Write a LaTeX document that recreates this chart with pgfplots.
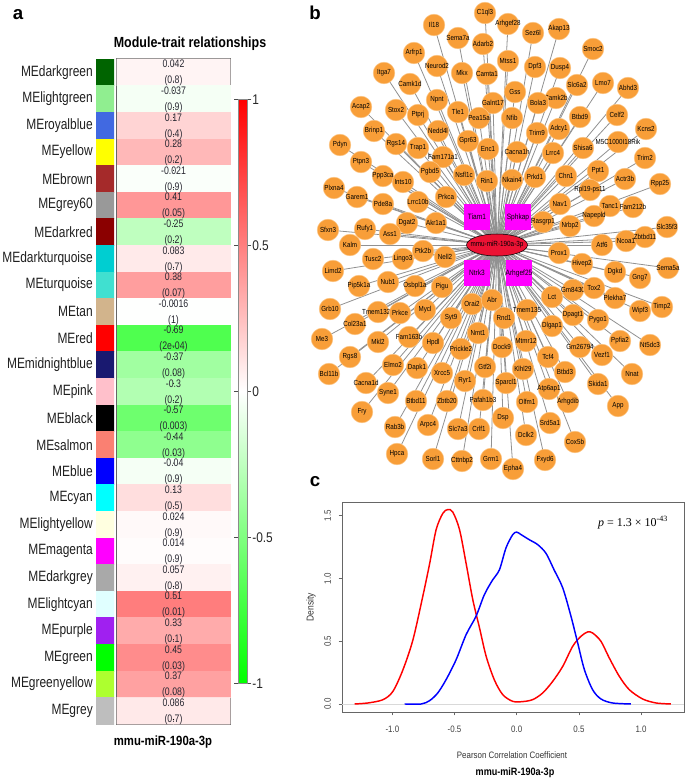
\documentclass[border=0pt]{standalone}
\usepackage{pgfplots}
\pgfplotsset{compat=1.18}
\usepackage{pgfplotstable}
\usepackage{fontspec}
\setmainfont{Liberation Sans}
\newfontfamily\nar[FakeStretch=0.85]{Liberation Sans}
\newfontfamily\narr[FakeStretch=0.8]{Liberation Sans}
\newfontfamily\serifp{Liberation Serif}
\newcommand\fs[1]{\fontsize{#1}{#1}\selectfont}
\definecolor{nodeor}{RGB}{248,158,56}
\definecolor{noderim}{RGB}{252,196,130}
\definecolor{mag}{RGB}{255,0,255}
\definecolor{cred}{RGB}{236,18,52}
\definecolor{edgec}{RGB}{145,145,145}
\definecolor{txt}{RGB}{40,40,50}

% heatmap cells: x y idx val
\pgfplotstableread{
x y idx val
0.5 0.5 0 0.042
1.5 0.5 0 0.042
0.5 1.5 1 -0.037
1.5 1.5 1 -0.037
0.5 2.5 2 0.17
1.5 2.5 2 0.17
0.5 3.5 3 0.28
1.5 3.5 3 0.28
0.5 4.5 4 -0.021
1.5 4.5 4 -0.021
0.5 5.5 5 0.41
1.5 5.5 5 0.41
0.5 6.5 6 -0.25
1.5 6.5 6 -0.25
0.5 7.5 7 0.083
1.5 7.5 7 0.083
0.5 8.5 8 0.38
1.5 8.5 8 0.38
0.5 9.5 9 -0.0016
1.5 9.5 9 -0.0016
0.5 10.5 10 -0.69
1.5 10.5 10 -0.69
0.5 11.5 11 -0.37
1.5 11.5 11 -0.37
0.5 12.5 12 -0.3
1.5 12.5 12 -0.3
0.5 13.5 13 -0.57
1.5 13.5 13 -0.57
0.5 14.5 14 -0.44
1.5 14.5 14 -0.44
0.5 15.5 15 -0.04
1.5 15.5 15 -0.04
0.5 16.5 16 0.13
1.5 16.5 16 0.13
0.5 17.5 17 0.024
1.5 17.5 17 0.024
0.5 18.5 18 0.014
1.5 18.5 18 0.014
0.5 19.5 19 0.057
1.5 19.5 19 0.057
0.5 20.5 20 0.51
1.5 20.5 20 0.51
0.5 21.5 21 0.33
1.5 21.5 21 0.33
0.5 22.5 22 0.45
1.5 22.5 22 0.45
0.5 23.5 23 0.37
1.5 23.5 23 0.37
0.5 24.5 24 0.086
1.5 24.5 24 0.086
}\hmcells

\pgfplotstableread{
y v p
0.5 0.042 (0.8)
1.5 -0.037 (0.9)
2.5 0.17 (0.4)
3.5 0.28 (0.2)
4.5 -0.021 (0.9)
5.5 0.41 (0.05)
6.5 -0.25 (0.2)
7.5 0.083 (0.7)
8.5 0.38 (0.07)
9.5 -0.0016 (1)
10.5 -0.69 (2e-04)
11.5 -0.37 (0.08)
12.5 -0.3 (0.2)
13.5 -0.57 (0.003)
14.5 -0.44 (0.03)
15.5 -0.04 (0.9)
16.5 0.13 (0.5)
17.5 0.024 (0.9)
18.5 0.014 (0.9)
19.5 0.057 (0.8)
20.5 0.51 (0.01)
21.5 0.33 (0.1)
22.5 0.45 (0.03)
23.5 0.37 (0.08)
24.5 0.086 (0.7)
}\hmtext

\pgfplotstableread{
x y label
485 13 C1ql3
434 25 Il18
508 24 Arhgef28
533 33 Sez6l
559 29 Akap13
458 38 Sema7a
483 44 Adarb2
593 49 Smoc2
414 53 Arfrp1
508 61 Mtss1
535 67 Dpf3
560 68 Dusp4
437 66 Neurod2
462 73 Mkx
487 74 Camta1
384 73 Itga7
410 84 Camk1d
577 85 Slc6a2
603 83 Lmo7
628 88 Abhd3
515 92 Gss
437 100 Npnt
493 103 Galnt17
556 98 Camk2b
538 103 Bola3
361 107 Acap2
396 110 Stox2
418 115 Ptprj
458 112 Tle1
479 118 Pea15a
512 118 Nfib
580 117 Btbd9
617 115 Celf2
646 129 Kcns2
374 131 Brinp1
438 131 Nedd4l
537 133 Trim9
559 129 Adcy1
340 145 Pdyn
396 144 Rgs14
418 148 Trap1
468 141 Gpr63
488 149 Enc1
517 152 Cacna1h
553 153 Lrrc4
583 148 Shisa6
618 142 M5C1000I18Rik
645 158 Trim2
443 157 Fam171a1
361 162 Ptpn3
430 172 Pgbd5
464 175 Nsfl1c
487 181 Rin1
512 180 Nkain4
535 177 Prkd1
566 176 Chn1
598 171 Ppt1
625 179 Actr3b
660 184 Rpp25
383 176 Ppp3ca
403 182 Ints10
590 190 Rpl19-ps11
334 188 Plxna4
357 197 Garem1
383 204 Pde8a
418 202 Lrrc10b
446 197 Prkca
560 204 Nav1
610 206 Tanc1
633 207 Fam212b
594 216 Napepld
328 230 Sfxn3
365 229 Rufy1
407 223 Dgat2
436 223 Akr1a1
543 222 Rasgrp1
570 226 Nrbp2
667 227 Slc35f3
390 234 Ass1
350 245 Kalm
602 245 Atf6
626 241 Ncoa1
645 237 Zbtbd11
559 253 Prox1
423 251 Ptk2b
445 257 Nell2
373 259 Tusc2
403 259 Lingo3
333 271 Limd2
582 264 Hivep2
615 272 Dgkd
640 278 Gng7
668 268 Sema5a
359 286 Pip5k1a
388 282 Nub1
415 286 Osbpl1a
442 287 Pigu
573 290 Gm8430
594 288 Tox2
552 297 Lct
615 298 Plekha7
640 311 Wipf3
662 307 Timp2
330 309 Grb10
378 312 Tmem132d
400 313 Prkce
425 310 Mycl
472 304 Orai2
492 300 Abr
451 318 Syt9
504 318 Rnd1
527 310 Tmem135
573 315 Dpagt1
552 326 Dlgap1
598 320 Pygo1
355 324 Col23a1
322 339 Me3
378 342 Mkl2
409 337 Fam163b
478 333 Nmt1
433 343 Hpdl
461 349 Prickle2
502 347 Dock9
526 341 Mtmr12
580 347 Gm26794
620 341 Ppfia2
650 345 Nt5dc3
602 355 Vezf1
350 357 Rgs8
548 357 Tcf4
393 365 Elmo2
417 368 Dapk1
442 373 Xrcc5
485 367 Gtf2i
523 369 Klhl29
565 372 Btbd3
632 374 Nnat
329 374 Bcl11b
366 383 Cacna1d
465 381 Ryr1
506 383 Sparcl1
549 389 Atp6ap1
598 384 Skida1
388 393 Syne1
416 401 Btbd11
447 401 Zbtb20
483 400 Pafah1b3
527 402 Olfm1
568 402 Arhgdib
362 412 Fry
618 406 App
395 427 Rab3b
428 425 Arpc4
458 429 Slc7a3
479 429 Crlf1
503 418 Dsp
550 423 Srd5a1
526 435 Dclk2
575 442 Cox5b
397 454 Hpca
433 459 Sorl1
462 461 Cttnbp2
491 459 Grm1
545 460 Fxyd6
513 469 Epha4
}\netnodes

\pgfplotstableread{
x y label
477 217 Tiam1
518 217 Sphkap
477 273 Ntrk3
519 273 Arhgef25
}\netsq

\pgfplotstableread{
x y
-1.304 0
-1.197 0.008
-1.076 0.034
-0.996 0.10
-0.916 0.27
-0.835 0.51
-0.755 0.86
-0.700 1.12
-0.648 1.39
-0.594 1.52
-0.554 1.55
-0.514 1.53
-0.460 1.39
-0.407 1.12
-0.353 0.83
-0.300 0.61
-0.246 0.38
-0.179 0.19
-0.112 0.074
-0.032 0.021
0.048 0.019
0.129 0.035
0.209 0.088
0.289 0.18
0.370 0.30
0.450 0.46
0.517 0.54
0.570 0.574
0.610 0.566
0.677 0.50
0.744 0.367
0.825 0.22
0.905 0.114
1.012 0.04
1.120 0.008
1.240 0
}\redcurve

\pgfplotstableread{
x y
-0.902 0
-0.768 0
-0.700 0.027
-0.635 0.088
-0.568 0.194
-0.487 0.354
-0.407 0.553
-0.327 0.70
-0.260 0.872
-0.193 0.99
-0.139 1.07
-0.086 1.245
-0.032 1.35
0.000 1.37
0.035 1.35
0.100 1.31
0.169 1.27
0.236 1.20
0.300 1.07
0.370 0.925
0.436 0.70
0.490 0.487
0.544 0.274
0.610 0.114
0.677 0.04
0.770 0.008
0.918 0
}\bluecurve

\begin{document}
\begin{tikzpicture}
\useasboundingbox (0,0) rectangle (513.75pt,-586.5pt);

% ---------- panel a: colour strip ----------
\begin{axis}[at={(72pt,-44.25pt)}, anchor=north west, scale only axis,
  width=13.5pt, height=498.75pt,
  xmin=0, xmax=2, ymin=0, ymax=25, y dir=reverse,
  axis line style={draw=none}, xtick=\empty,
  ytick={0.5,1.5,...,24.5},
  yticklabels={MEdarkgreen,MElightgreen,MEroyalblue,MEyellow,MEbrown,MEgrey60,MEdarkred,MEdarkturquoise,MEturquoise,MEtan,MEred,MEmidnightblue,MEpink,MEblack,MEsalmon,MEblue,MEcyan,MElightyellow,MEmagenta,MEdarkgrey,MElightcyan,MEpurple,MEgreen,MEgreenyellow,MEgrey},
  major tick length=0pt,
  yticklabel style={font=\narr\fs{11.2}, text=black!88, inner sep=0pt},
  yticklabel shift=2.25pt,
  colormap={strip}{rgb255=(0,100,0) rgb255=(144,238,144) rgb255=(65,105,225) rgb255=(255,255,0) rgb255=(165,42,42) rgb255=(153,153,153) rgb255=(139,0,0) rgb255=(0,206,209) rgb255=(64,224,208) rgb255=(210,180,140) rgb255=(255,0,0) rgb255=(25,25,112) rgb255=(255,192,203) rgb255=(0,0,0) rgb255=(250,128,114) rgb255=(0,0,255) rgb255=(0,255,255) rgb255=(255,255,224) rgb255=(255,0,255) rgb255=(169,169,169) rgb255=(224,255,255) rgb255=(160,32,240) rgb255=(0,255,0) rgb255=(173,255,47) rgb255=(190,190,190)},
  colormap access=direct]
\addplot[matrix plot*, mesh/cols=2, point meta=explicit] table[x=x, y=y, meta=idx] {\hmcells};
\end{axis}

% ---------- panel a: heatmap ----------
\begin{axis}[at={(87.75pt,-44.25pt)}, anchor=north west, scale only axis,
  width=84.75pt, height=498.75pt,
  xmin=0, xmax=2, ymin=0, ymax=25, y dir=reverse,
  xtick=\empty, ytick=\empty, clip=false,
  axis line style={draw=black!60, line width=0.8pt},
  colormap={gwr}{rgb255=(0,255,0) rgb255=(255,255,255) rgb255=(255,0,0)},
  point meta min=-1, point meta max=1,
  colorbar,
  colorbar style={at={(parent axis.east)}, anchor=west, xshift=-2.25pt,
    scale only axis, width=6.75pt, height=438pt,
    ytick={-1,-0.5,0,0.5,1}, yticklabels={-1,-0.5,0,0.5,1},
    tick align=outside, major tick length=3pt,
    yticklabel style={font=\nar\fs{10.5}, text=black!85, inner sep=0pt},
    yticklabel shift=0.5pt,
    axis line style={draw=black!45, line width=0.5pt},
    tick style={black!70, line width=0.5pt}}]
\addplot[matrix plot*, mesh/cols=2, point meta=explicit] table[x=x, y=y, meta=val] {\hmcells};
\addplot[only marks, mark=*, mark size=0.1pt, mark options={draw=none, fill=none},
  nodes near coords, point meta=explicit symbolic, nodes near coords align={center},
  every node near coord/.append style={font=\narr\fs{8.2}, text=txt, inner sep=0pt}]
  table[x expr=1, y expr=\thisrow{y}-0.31, meta=v] {\hmtext};
\addplot[only marks, mark=*, mark size=0.1pt, mark options={draw=none, fill=none},
  nodes near coords, point meta=explicit symbolic, nodes near coords align={center},
  every node near coord/.append style={font=\narr\fs{8.2}, text=txt, inner sep=0pt}]
  table[x expr=1, y expr=\thisrow{y}+0.33, meta=p] {\hmtext};
\end{axis}

% ---------- panel b: network ----------
\begin{axis}[at={(225pt,0pt)}, anchor=north west, scale only axis,
  width=288.75pt, height=352.5pt,
  xmin=300, xmax=685, ymin=0, ymax=470, y dir=reverse,
  hide axis, clip=false]
\addplot[edgec, line width=0.6pt, no marks,
  quiver={u={497-\thisrow{x}}, v={245-\thisrow{y}}}] table[x=x, y=y] {\netnodes};
\addplot[edgec, line width=0.6pt, no marks,
  quiver={u={497-\thisrow{x}}, v={245-\thisrow{y}}}] table[x=x, y=y] {\netsq};
\addplot[only marks, mark=square*, mark size=9.4pt, mark options={fill=mag, draw=mag},
  nodes near coords, point meta=explicit symbolic, nodes near coords align={center},
  every node near coord/.append style={font=\nar\fs{5.8}, text=black, inner sep=0pt}]
  table[x=x, y=y, meta=label] {\netsq};
\addplot[only marks, mark=*, mark size=8.25pt, mark options={xscale=2.77, fill=cred, draw=none},
  nodes near coords, point meta=explicit symbolic, nodes near coords align={center},
  every node near coord/.append style={font=\nar\fs{5.6}, text=black, inner sep=0pt}]
  coordinates {(497,245) [mmu-miR-190a-3p]};
\addplot[only marks, mark=*, mark size=8.1pt, mark options={fill=nodeor, draw=noderim, line width=0.4pt},
  nodes near coords, point meta=explicit symbolic, nodes near coords align={center},
  every node near coord/.append style={font=\nar\fs{5.5}, text=black, inner sep=0pt}]
  table[x=x, y=y, meta=label] {\netnodes};
\end{axis}

% ---------- panel c: densities ----------
\begin{axis}[at={(256.5pt,-376.5pt)}, anchor=north west, scale only axis,
  width=256.5pt, height=157.5pt,
  xmin=-1.405, xmax=1.345, ymin=-0.064, ymax=1.61,
  xtick={-1,-0.5,0,0.5,1}, xticklabels={-1.0,-0.5,0.0,0.5,1.0},
  ytick={0,0.5,1,1.5}, yticklabels={0.0,0.5,1.0,1.5},
  tick align=outside, xtick pos=left, ytick pos=left, major tick length=2.5pt,
  axis line style={black!60, line width=0.7pt}, tick style={black!60, line width=0.6pt},
  xticklabel style={font=\nar\fs{7}, text=black!75, inner sep=0pt}, xticklabel shift=8pt,
  yticklabel style={font=\nar\fs{7}, text=black!75, rotate=90, anchor=south, inner sep=0pt}, yticklabel shift=5.5pt]
\addplot[black!15, line width=0.7pt] coordinates {(-1.405,0) (1.345,0)};
\addplot[red, line width=1.1pt, smooth, no marks] table[x=x, y=y] {\redcurve};
\addplot[blue, line width=1.1pt, smooth, no marks] table[x=x, y=y] {\bluecurve};
\end{axis}

% ---------- texts ----------
\begin{scope}[x=0.75pt, y=-0.75pt]
\node[font=\bfseries\fs{14}] at (18,15) {a};
\node[font=\bfseries\fs{14}] at (315,13) {b};
\node[font=\bfseries\fs{14}] at (315,482) {c};
\node[font=\nar\bfseries\fs{11}] at (190,44) {Module-trait relationships};
\node[font=\nar\bfseries\fs{10}] at (163,742) {mmu-miR-190a-3p};
\node[font=\nar\fs{7.5}, text=black!80, rotate=90] at (311,607) {Density};
\node[font=\nar\fs{7}, text=black!80] at (512,755) {Pearson Correlation Coefficient};
\node[font=\nar\bfseries\fs{8}] at (515,773) {mmu-miR-190a-3p};
\node[font=\serifp\fs{9}] at (633,523) {\textit{p} = 1.3 × 10\textsuperscript{-43}};
\end{scope}
\end{tikzpicture}
\end{document}
